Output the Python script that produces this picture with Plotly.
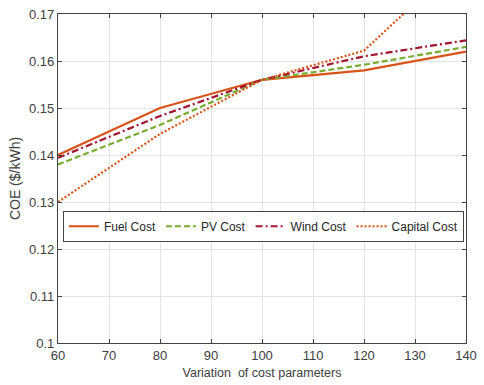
import plotly.graph_objects as go

x_vals = [60, 80, 100, 120, 140]
fuel_cost = [0.1400, 0.1500, 0.1560, 0.1580, 0.1620]
pv_cost = [0.1380, 0.1464, 0.1560, 0.1592, 0.1630]
wind_cost = [0.1394, 0.1483, 0.1560, 0.1610, 0.1644]
capital_cost = [0.1300, 0.1445, 0.1560, 0.1622, 0.1824]

x_ticks = [60, 70, 80, 90, 100, 110, 120, 130, 140]
y_ticks = [0.10, 0.11, 0.12, 0.13, 0.14, 0.15, 0.16, 0.17]
y_tick_text = ["0.1", "0.11", "0.12", "0.13", "0.14", "0.15", "0.16", "0.17"]

FONT = "Liberation Sans, Arial, sans-serif"

fig = go.Figure()
fig.add_trace(go.Scatter(x=x_vals, y=fuel_cost, mode="lines", name="Fuel Cost",
                         line=dict(color="#D95319", width=2.2, dash="solid")))
fig.add_trace(go.Scatter(x=x_vals, y=pv_cost, mode="lines", name="PV Cost",
                         line=dict(color="#77AC30", width=2.2, dash="6px,3px")))
fig.add_trace(go.Scatter(x=x_vals, y=wind_cost, mode="lines", name="Wind Cost",
                         line=dict(color="#A2142F", width=2.2, dash="7px,3px,2px,3px")))
fig.add_trace(go.Scatter(x=x_vals, y=capital_cost, mode="lines", name="Capital Cost",
                         line=dict(color="#D95319", width=2.2, dash="2px,2px")))

axis_common = dict(
    showline=True, linecolor="#444444", linewidth=1.2, mirror="ticks",
    ticks="inside", ticklen=4, tickcolor="#444444",
    showgrid=True, gridcolor="#E3E3E3", gridwidth=1,
    zeroline=False,
    tickfont=dict(family=FONT, size=13, color="#404040"),
    ticklabeloverflow="allow",
)

fig.update_xaxes(range=[60, 140], tickvals=x_ticks, **axis_common,
                 title=dict(text="Variation\u00a0 of cost parameters", standoff=6,
                            font=dict(family=FONT, size=12.5, color="#404040")))
fig.update_yaxes(range=[0.10, 0.17], tickvals=y_ticks, ticktext=y_tick_text, **axis_common,
                 title=dict(text="COE ($/kWh)", standoff=5,
                            font=dict(family=FONT, size=14, color="#404040")))

fig.update_layout(
    width=484, height=385,
    margin=dict(l=58, r=7, t=13, b=42),
    plot_bgcolor="white", paper_bgcolor="white",
    legend=dict(orientation="h", x=0.012, y=0.402, xanchor="left", yanchor="top",
                bgcolor="white", bordercolor="#444444", borderwidth=1,
                font=dict(family=FONT, size=12, color="#262626"),
                tracegroupgap=0, itemwidth=30, entrywidth=0),
    showlegend=True,
)

fig.write_html("out.html")
